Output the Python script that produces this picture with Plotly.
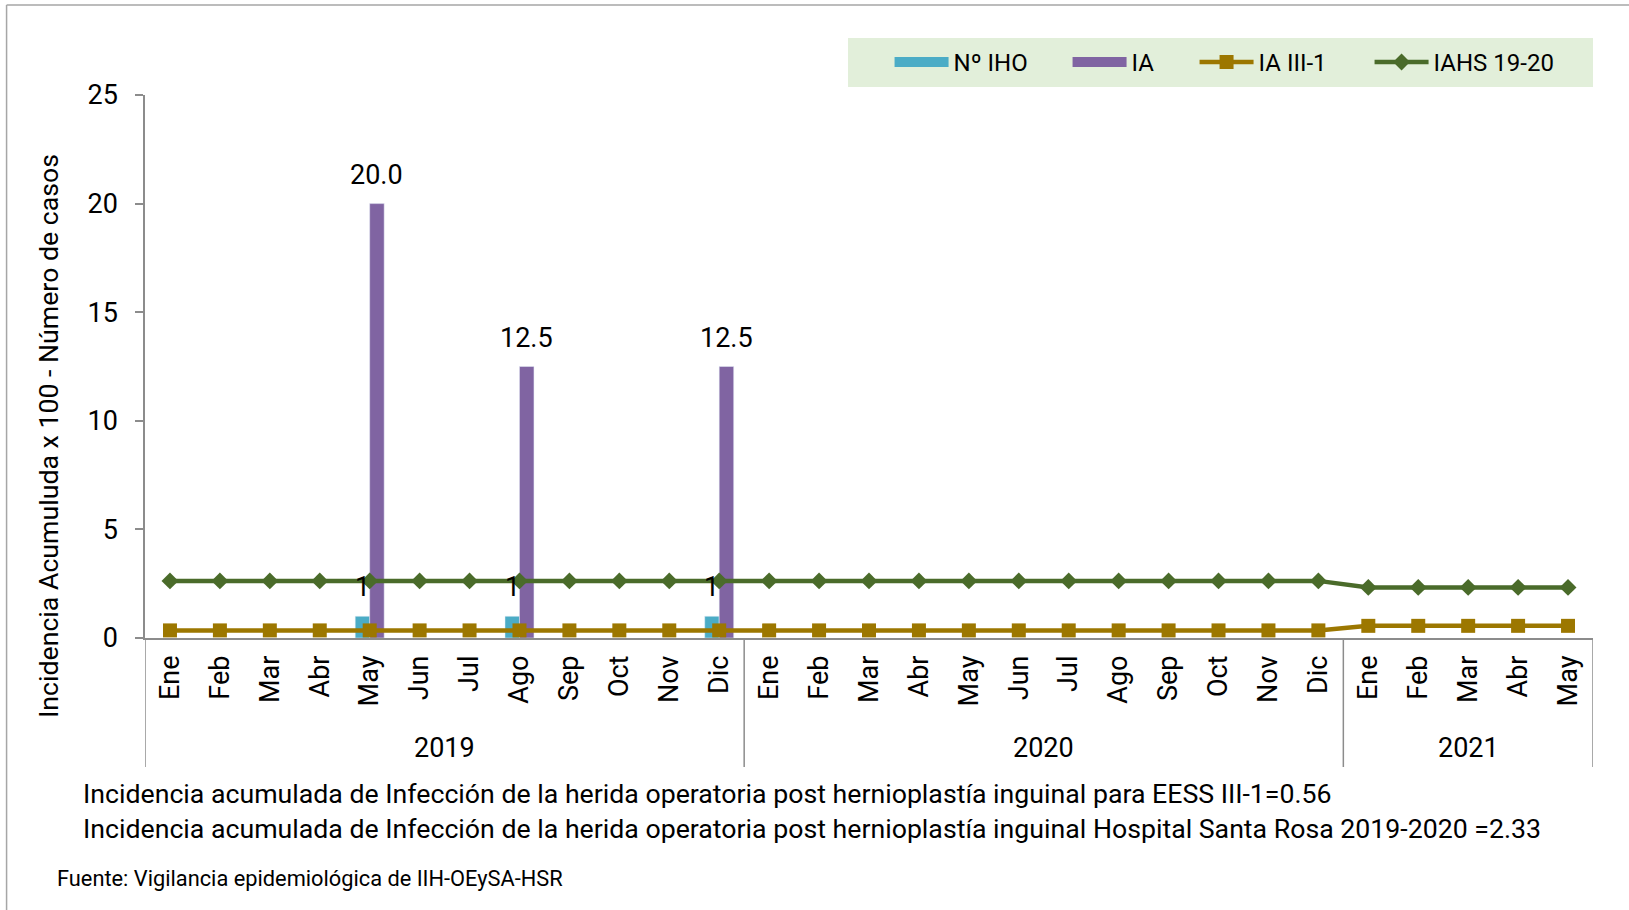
import plotly.graph_objects as go


# Categorias: meses agrupados por año
years = ['2019', '2020', '2021']
months_2019 = ['Ene', 'Feb', 'Mar', 'Abr', 'May', 'Jun', 'Jul', 'Ago', 'Sep', 'Oct', 'Nov', 'Dic']
months_2020 = ['Ene', 'Feb', 'Mar', 'Abr', 'May', 'Jun', 'Jul', 'Ago', 'Sep', 'Oct', 'Nov', 'Dic']
months_2021 = ['Ene', 'Feb', 'Mar', 'Abr', 'May']

# Series
n_iho = [None, None, None, None, 1, None, None, 1, None, None, None, 1,
         None, None, None, None, None, None, None, None, None, None, None, None,
         None, None, None, None, None]
ia = [None, None, None, None, 20.0, None, None, 12.5, None, None, None, 12.5,
      None, None, None, None, None, None, None, None, None, None, None, None,
      None, None, None, None, None]
ia_iii1 = [0.35, 0.35, 0.35, 0.35, 0.35, 0.35, 0.35, 0.35, 0.35, 0.35, 0.35, 0.35,
           0.35, 0.35, 0.35, 0.35, 0.35, 0.35, 0.35, 0.35, 0.35, 0.35, 0.35, 0.35,
           0.56, 0.56, 0.56, 0.56, 0.56]
iahs = [2.63, 2.63, 2.63, 2.63, 2.63, 2.63, 2.63, 2.63, 2.63, 2.63, 2.63, 2.63,
        2.63, 2.63, 2.63, 2.63, 2.63, 2.63, 2.63, 2.63, 2.63, 2.63, 2.63, 2.63,
        2.33, 2.33, 2.33, 2.33, 2.33]

note_1 = 'Incidencia acumulada de Infección de la herida operatoria post hernioplastía inguinal para EESS III-1=0.56'
note_2 = 'Incidencia acumulada de Infección de la herida operatoria post hernioplastía inguinal Hospital Santa Rosa 2019-2020 =2.33'
source = 'Fuente: Vigilancia epidemiológica de IIH-OEySA-HSR'
y_title = 'Incidencia Acumuluda x 100 - Número de casos'

months_by_year = [months_2019, months_2020, months_2021]
months = months_2019 + months_2020 + months_2021
x = list(range(len(months)))

FONT = 'Roboto'
AXIS_GREY = '#8C8C8C'
CYAN = '#4BACC6'
PURPLE = '#8064A2'
GOLD = '#9C7700'
GREEN = '#4A6B2A'
BARGAP = 0.42
bar_w = (1 - BARGAP) / 2

fig = go.Figure()

# Barras (la leyenda se dibuja con trazas auxiliares para tener rectangulos anchos)
fig.add_trace(go.Bar(x=x, y=n_iho, name='Nº IHO', marker_color=CYAN, showlegend=False))
fig.add_trace(go.Bar(x=x, y=ia, name='IA', marker_color=PURPLE, showlegend=False))

# Entradas de leyenda para las barras
fig.add_trace(go.Scatter(x=[None], y=[None], name='Nº IHO', mode='lines',
                         line=dict(color=CYAN, width=15), legendwidth=109))
fig.add_trace(go.Scatter(x=[None], y=[None], name='IA', mode='lines',
                         line=dict(color=PURPLE, width=15), legendwidth=58))

# Lineas
fig.add_trace(go.Scatter(x=x, y=ia_iii1, name='IA III-1', mode='lines+markers',
                         line=dict(color=GOLD, width=4.5),
                         marker=dict(symbol='square', size=14), legendwidth=106))
fig.add_trace(go.Scatter(x=x, y=iahs, name='IAHS 19-20', mode='lines+markers',
                         line=dict(color=GREEN, width=4.5),
                         marker=dict(symbol='diamond', size=13)))

annotations = []

# Etiquetas de datos de las barras
for i in x:
    if n_iho[i] is not None:
        annotations.append(dict(x=i - bar_w / 2, y=n_iho[i], xref='x', yref='y',
                                text='%d' % n_iho[i], showarrow=False,
                                yanchor='bottom', yshift=11,
                                font=dict(size=27, color='black')))
    if ia[i] is not None:
        annotations.append(dict(x=i + bar_w / 2, y=ia[i], xref='x', yref='y',
                                text='%.1f' % ia[i], showarrow=False,
                                yanchor='bottom', yshift=11,
                                font=dict(size=27, color='black')))

# Etiquetas de año y separadores del eje de categorias
shapes = []
start = 0
bounds = [-0.5]
for yr, ms in zip(years, months_by_year):
    end = start + len(ms)
    annotations.append(dict(x=(start + end - 1) / 2, y=-0.2026, xref='x', yref='paper',
                            text=yr, showarrow=False, yanchor='middle',
                            font=dict(size=27, color='black')))
    bounds.append(end - 0.5)
    start = end
for b in bounds:
    shapes.append(dict(type='line', xref='x', yref='paper', x0=b, x1=b, y0=0, y1=-0.2376,
                       line=dict(color=AXIS_GREY, width=1.5)))

# Titulo del eje Y
annotations.append(dict(x=-0.0663, y=0.372, xref='paper', yref='paper', text=y_title,
                        textangle=-90, showarrow=False, xanchor='center', yanchor='middle',
                        font=dict(size=26.7, color='black')))

# Notas al pie
annotations.append(dict(x=-0.0445, y=-0.2873, xref='paper', yref='paper', text=note_1,
                        showarrow=False, xanchor='left', yanchor='middle',
                        font=dict(size=26.7, color='black')))
annotations.append(dict(x=-0.0445, y=-0.3517, xref='paper', yref='paper', text=note_2,
                        showarrow=False, xanchor='left', yanchor='middle',
                        font=dict(size=26.7, color='black')))
annotations.append(dict(x=-0.0625, y=-0.442, xref='paper', yref='paper', text=source,
                        showarrow=False, xanchor='left', yanchor='middle',
                        font=dict(size=21.8, color='black')))

# Fondo de la leyenda
shapes.append(dict(type='rect', xref='paper', yref='paper', x0=0.4855, x1=1.0, y0=1.0147, y1=1.105,
                   fillcolor='#E2EFDA', line=dict(width=0), layer='below'))

# Marco exterior (izquierda y arriba)
shapes.append(dict(type='line', xref='paper', yref='paper', x0=-0.0956, x1=-0.0956, y0=1.1657, y1=-0.6,
                   line=dict(color='#A6A6A6', width=1.5)))
shapes.append(dict(type='line', xref='paper', yref='paper', x0=-0.0956, x1=1.1, y0=1.1657, y1=1.1657,
                   line=dict(color='#A6A6A6', width=1.5)))

fig.update_layout(
    width=1629, height=910,
    margin=dict(l=145, r=36, t=95, b=272),
    paper_bgcolor='white', plot_bgcolor='white',
    font=dict(family=FONT, color='black'),
    barmode='group', bargap=BARGAP,
    showlegend=True,
    legend=dict(orientation='h', x=0.5142, y=1.06, xanchor='left', yanchor='middle',
                bgcolor='rgba(0,0,0,0)', font=dict(size=24), itemwidth=54,
                traceorder='normal'),
    annotations=annotations,
    shapes=shapes,
)

fig.update_xaxes(range=[-0.5, len(months) - 0.5], tickmode='array', tickvals=x, ticktext=months,
                 tickangle=-90, ticks='', showline=True, linecolor=AXIS_GREY, linewidth=1.5,
                 showgrid=False, zeroline=False, tickfont=dict(size=27), ticklabelstandoff=5)
fig.update_yaxes(range=[0, 25], tickmode='array', tickvals=[0, 5, 10, 15, 20, 25],
                 ticks='outside', ticklen=8, tickcolor=AXIS_GREY, tickwidth=1.5,
                 showline=True, linecolor=AXIS_GREY, linewidth=1.5,
                 showgrid=False, zeroline=False, tickfont=dict(size=27), ticklabelstandoff=12)

fig.write_html("out.html", config={'displayModeBar': False},
               post_script="document.body.style.margin='0px';")
